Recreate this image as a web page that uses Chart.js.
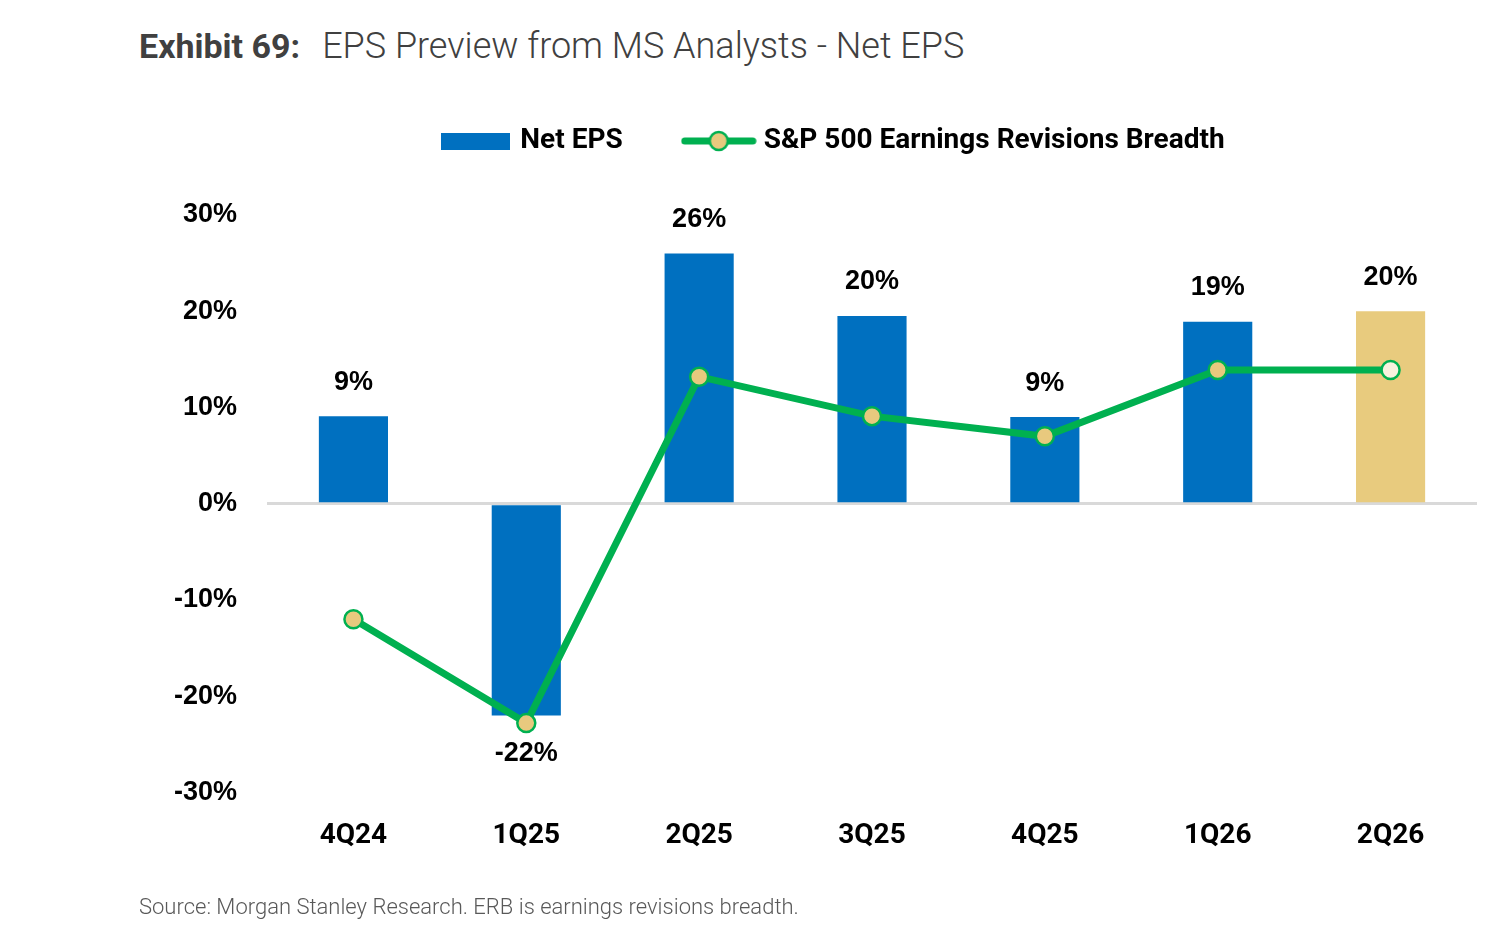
<!DOCTYPE html>
<html>
<head>
<meta charset="utf-8">
<script src="https://cdn.jsdelivr.net/npm/chart.js@4/dist/chart.umd.min.js"></script>
<style>
  body { margin: 0; background: #fff; width: 1500px; height: 940px; overflow: hidden; position: relative; }
  #title { position: absolute; left: 139px; top: 25px; font-family: Roboto, sans-serif; color: #404040; white-space: nowrap; }
  #title b { font-weight: 700; font-size: 34px; margin-right: 22px; }
  #title span { font-weight: 300; font-size: 36px; }
  #source { position: absolute; left: 139px; top: 894px; font-family: Roboto, sans-serif; font-weight: 300; font-size: 22px; color: #595959; white-space: nowrap; }
  #wrap { position: absolute; left: 0; top: 0; }
</style>
</head>
<body>
<div id="title"><b>Exhibit 69:</b><span>EPS Preview from MS Analysts - Net EPS</span></div>
<div id="wrap"><canvas id="epsChart" width="1500" height="940"></canvas></div>
<div id="source">Source: Morgan Stanley Research. ERB is earnings revisions breadth.</div>
<script>
const quarters = ['4Q24', '1Q25', '2Q25', '3Q25', '4Q25', '1Q26', '2Q26'];
const netEps = [9.1, -22.0, 26.0, 19.5, 9.0, 18.9, 20.0];
const revisionsBreadth = [-12.0, -22.8, 13.2, 9.1, 7.0, 13.9, 13.9];
const yTicks = [-30, -20, -10, 0, 10, 20, 30];

const blue = '#0070C0';
const gold = '#E8CB7E';
const green = '#00B050';

const barColors = quarters.map((q, i) => i === quarters.length - 1 ? gold : blue);
const pointFills = quarters.map((q, i) => i === quarters.length - 1 ? '#F8F1DE' : '#E8C97E');

// legend swatches drawn as small images
function barSwatch() {
    const c = document.createElement('canvas');
    c.width = 69; c.height = 17;
    const ctx = c.getContext('2d');
    ctx.fillStyle = blue;
    ctx.fillRect(0, 0, 69, 17);
    return c;
}

function lineSwatch() {
    const c = document.createElement('canvas');
    c.width = 76; c.height = 24;
    const ctx = c.getContext('2d');
    ctx.strokeStyle = green;
    ctx.lineWidth = 7;
    ctx.lineCap = 'round';
    ctx.beginPath();
    ctx.moveTo(4, 12);
    ctx.lineTo(72, 12);
    ctx.stroke();
    ctx.beginPath();
    ctx.arc(38, 12, 9, 0, Math.PI * 2);
    ctx.fillStyle = '#E8C97E';
    ctx.fill();
    ctx.lineWidth = 2.5;
    ctx.stroke();
    return c;
}

const barLabels = {
    id: 'barLabels',
    afterDatasetsDraw(chart) {
        const ctx = chart.ctx;
        const meta = chart.getDatasetMeta(1);
        ctx.save();
        ctx.font = 'bold 27px "Liberation Sans", Arial, sans-serif';
        ctx.fillStyle = '#000';
        ctx.textAlign = 'center';
        ctx.textBaseline = 'middle';
        meta.data.forEach((bar, i) => {
            const v = netEps[i];
            const y = v >= 0 ? bar.y - 34 : bar.y + 38;
            ctx.fillText(Math.round(v) + '%', bar.x, y);
        });
        ctx.restore();
    }
};

// nudge the legend so it sits where the original has it
const legendShift = {
    id: 'legendShift',
    afterLayout(chart) {
        chart.legend.left += 46;
        chart.legend.right += 46;
    }
};

const chartEl = document.getElementById('epsChart');

new Chart(chartEl, {
    data: {
        labels: quarters,
        datasets: [{
            type: 'line',
            label: 'S&P 500 Earnings Revisions Breadth',
            data: revisionsBreadth,
            borderColor: green,
            borderWidth: 7,
            pointRadius: 9,
            pointBorderWidth: 2.5,
            pointBorderColor: green,
            pointBackgroundColor: pointFills,
            tension: 0,
            order: 0,
        },
        {
            type: 'bar',
            label: 'Net EPS',
            data: netEps,
            backgroundColor: barColors,
            barPercentage: 0.4,
            categoryPercentage: 1,
            order: 1,
        }],
    },
    options: {
        responsive: false,
        animation: false,
        layout: {
            padding: { left: 100, right: 23, top: 62, bottom: 68 }
        },
        plugins: {
            tooltip: { enabled: false },
            legend: {
                position: 'top',
                labels: {
                    usePointStyle: true,
                    pointStyleWidth: 62,
                    padding: 65,
                    color: '#000',
                    font: { family: 'Roboto', weight: 'bold', size: 28 },
                    generateLabels() {
                        return [
                            { text: 'Net EPS', pointStyle: barSwatch(), fillStyle: blue, strokeStyle: blue, lineWidth: 0, datasetIndex: 1 },
                            { text: 'S&P 500 Earnings Revisions Breadth', pointStyle: lineSwatch(), fillStyle: green, strokeStyle: green, lineWidth: 0, datasetIndex: 0 },
                        ];
                    }
                }
            },
            // empty spacer between legend and plot
            subtitle: {
                display: true,
                text: ' ',
                weight: 500,
                font: { size: 10 },
                padding: { top: 38, bottom: 0 }
            },
        },
        scales: {
            x: {
                grid: { display: false },
                border: { display: false },
                ticks: {
                    padding: 19,
                    color: '#000',
                    font: { family: 'Roboto', weight: 'bold', size: 28 }
                }
            },
            y: {
                min: -30,
                max: 30,
                afterBuildTicks(scale) {
                    scale.ticks = yTicks.map(v => ({ value: v }));
                },
                afterFit(scale) {
                    scale.width = 167;
                },
                grid: {
                    drawTicks: false,
                    lineWidth: 3,
                    color: c => c.tick && c.tick.value === 0 ? '#D9D9D9' : 'rgba(0,0,0,0)'
                },
                border: { display: false },
                ticks: {
                    padding: 30,
                    color: '#000',
                    font: { family: '"Liberation Sans"', weight: 'bold', size: 27 },
                    callback: v => v + '%'
                }
            },
        },
    },
    plugins: [barLabels, legendShift],
});
</script>
</body>
</html>
